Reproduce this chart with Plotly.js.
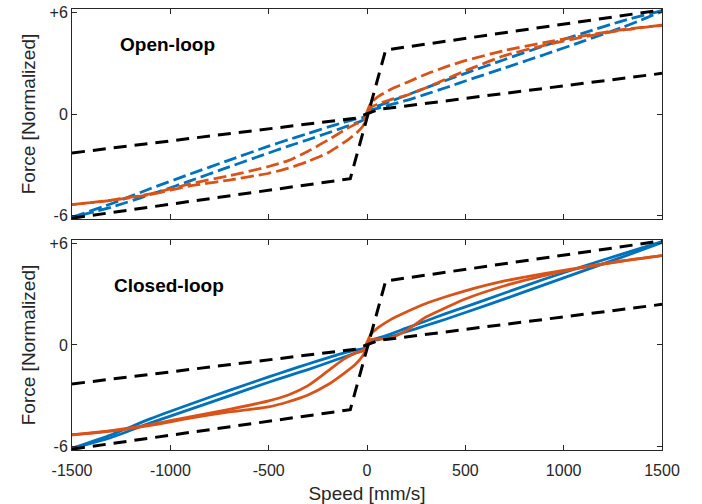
<!DOCTYPE html>
<html>
<head>
<meta charset="utf-8">
<script src="https://cdn.plot.ly/plotly-3.0.1.min.js"></script>
<style>html,body{margin:0;padding:0;background:#fff;}#chart{width:702px;height:504px;}</style>
</head>
<body>
<div id="chart"></div>
<script>
// ---- data ----
const speed = [-1500,-1300,-1100,-900,-700,-500,-400,-300,-200,-120,-60,-20,0,20,60,120,200,300,400,500,700,900,1100,1300,1500];

const openBlueUpper   = [-6.1,-5.3,-4.4,-3.55,-2.72,-1.9,-1.52,-1.15,-0.78,-0.5,-0.3,-0.2,0.05,0.35,0.5,0.75,1.1,1.55,1.98,2.4,3.22,4.02,4.78,5.5,6.1];
const openBlueLower   = [-6.1,-5.5,-4.75,-3.95,-3.12,-2.3,-1.9,-1.52,-1.12,-0.8,-0.55,-0.35,-0.05,0.25,0.35,0.55,0.8,1.17,1.55,1.95,2.72,3.5,4.3,5.12,6.05];
const openOrangeUpper = [-5.35,-5.08,-4.72,-4.12,-3.65,-3.1,-2.75,-2.2,-1.55,-0.98,-0.6,-0.4,0.12,0.65,1.05,1.45,1.85,2.35,2.78,3.15,3.75,4.22,4.62,4.98,5.24];
const openOrangeLower = [-5.35,-5.1,-4.75,-4.25,-3.9,-3.5,-3.2,-2.8,-2.3,-1.7,-1.2,-0.7,-0.15,0.4,0.6,0.85,1.1,1.55,2.05,2.55,3.45,4.05,4.55,4.95,5.24];

const closedBlueUpper   = [-6.1,-5.3,-4.35,-3.5,-2.68,-1.88,-1.5,-1.12,-0.76,-0.48,-0.3,-0.22,0.05,0.3,0.42,0.65,1.0,1.42,1.85,2.25,3.07,3.88,4.65,5.38,6.1];
const closedBlueLower   = [-6.1,-5.45,-4.6,-3.8,-3.0,-2.2,-1.82,-1.45,-1.05,-0.72,-0.48,-0.32,-0.05,0.25,0.32,0.5,0.78,1.15,1.52,1.92,2.72,3.55,4.38,5.2,6.05];
const closedOrangeUpper = [-5.3,-5.05,-4.7,-4.25,-3.8,-3.3,-2.95,-2.4,-1.55,-0.85,-0.48,-0.32,0.15,0.65,1.05,1.5,1.95,2.45,2.85,3.2,3.78,4.22,4.6,4.97,5.28];
const closedOrangeLower = [-5.3,-5.08,-4.75,-4.32,-3.95,-3.65,-3.35,-2.95,-2.35,-1.7,-1.15,-0.6,-0.15,0.3,0.35,0.42,0.85,1.65,2.2,2.72,3.5,4.1,4.58,4.96,5.28];

const maxSpeed = [-1500,-85,95,1500];
const maxForce = [-6.15,-3.82,3.78,6.15];
const minSpeed = [-1500,-60,60,1500];
const minForce = [-2.3,-0.25,0.27,2.4];

const xTicks = [-1500,-1000,-500,0,500,1000,1500];
const xTickText = ['-1500','-1000','-500','0','500','1000','1500'];
const yTicks = [-6,0,6];
const yTickText = ['-6','0','+6'];

// ---- styling ----
const BLUE = '#0072BD', ORANGE = '#D95319', INK = '#262626';
const FONT = 'Liberation Sans, Arial, Helvetica, sans-serif';
const dashA = '13px,5px';
const dashB = '4px,5px,9px,0px';   // same pattern shifted, so overlapping parts look solid
const blackDash = '13px,8px';

function leftPart(xs, ys){ const x=[],y=[]; xs.forEach((v,i)=>{ if(v<=0){x.push(v);y.push(ys[i]);} }); return {x,y}; }
function rightPart(xs, ys){ const x=[],y=[]; xs.forEach((v,i)=>{ if(v>=0){x.push(v);y.push(ys[i]);} }); return {x:x.reverse(),y:y.reverse()}; }

const traces = [];
function dashedLoop(up, lo, color, xa, ya){
  [[leftPart(speed, up), dashA],[leftPart(speed, lo), dashB],
   [rightPart(speed, up), dashA],[rightPart(speed, lo), dashB]].forEach(([p,d])=>{
    traces.push({x:p.x, y:p.y, xaxis:xa, yaxis:ya, mode:'lines', hoverinfo:'skip',
      line:{color:color, width:2.8, dash:d, shape:'spline', smoothing:0.6}});
  });
}
function solidLoop(up, lo, color, xa, ya){
  [up, lo].forEach(ys=>{
    traces.push({x:speed, y:ys, xaxis:xa, yaxis:ya, mode:'lines', hoverinfo:'skip',
      line:{color:color, width:2.8, shape:'spline', smoothing:0.6}});
  });
}
function envelope(xa, ya){
  [[maxSpeed,maxForce],[minSpeed,minForce]].forEach(([x,y])=>{
    traces.push({x:x, y:y, xaxis:xa, yaxis:ya, mode:'lines', hoverinfo:'skip',
      line:{color:'#000000', width:3, dash:blackDash}});
  });
}

dashedLoop(openBlueUpper, openBlueLower, BLUE, 'x', 'y');
dashedLoop(openOrangeUpper, openOrangeLower, ORANGE, 'x', 'y');
envelope('x', 'y');
solidLoop(closedBlueUpper, closedBlueLower, BLUE, 'x2', 'y2');
solidLoop(closedOrangeUpper, closedOrangeLower, ORANGE, 'x2', 'y2');
envelope('x2', 'y2');

const axBase = {
  showgrid:false, zeroline:false, showline:true, linecolor:INK, linewidth:1,
  mirror:'ticks', ticks:'inside', ticklen:5, tickcolor:INK, tickwidth:1,
  tickfont:{family:FONT, size:16, color:INK}, fixedrange:true
};
const xBase = Object.assign({}, axBase, {range:[-1500,1500], tickmode:'array', tickvals:xTicks, ticktext:xTickText});
const yBase = Object.assign({}, axBase, {range:[-6.2,6.2], tickmode:'array', tickvals:yTicks, ticktext:yTickText,
  title:{text:'Force [Normalized]', font:{family:FONT, size:19, color:INK}, standoff:8}});

const layout = {
  width:702, height:504,
  margin:{l:72, r:40, t:9, b:54},
  paper_bgcolor:'#ffffff', plot_bgcolor:'#ffffff',
  showlegend:false,
  xaxis: Object.assign({}, xBase, {anchor:'y', domain:[0,1], showticklabels:false}),
  yaxis: Object.assign({}, yBase, {anchor:'x', domain:[0.5238,1]}),
  xaxis2: Object.assign({}, xBase, {anchor:'y2', domain:[0,1], ticklabelstandoff:6,
    title:{text:'Speed [mm/s]', font:{family:FONT, size:19, color:INK}, standoff:8}}),
  yaxis2: Object.assign({}, yBase, {anchor:'x2', domain:[0,0.4762]}),
  annotations:[
    {text:'<b>Open-loop</b>', xref:'x', yref:'y', x:-1266, y:4.1, xanchor:'left', yanchor:'middle',
     showarrow:false, font:{family:FONT, size:19, color:'#000000'}},
    {text:'<b>Closed-loop</b>', xref:'x2', yref:'y2', x:-1297, y:3.5, xanchor:'left', yanchor:'middle',
     showarrow:false, font:{family:FONT, size:19, color:'#000000'}}
  ]
};

Plotly.newPlot('chart', traces, layout, {displayModeBar:false, staticPlot:true});
</script>
</body>
</html>
